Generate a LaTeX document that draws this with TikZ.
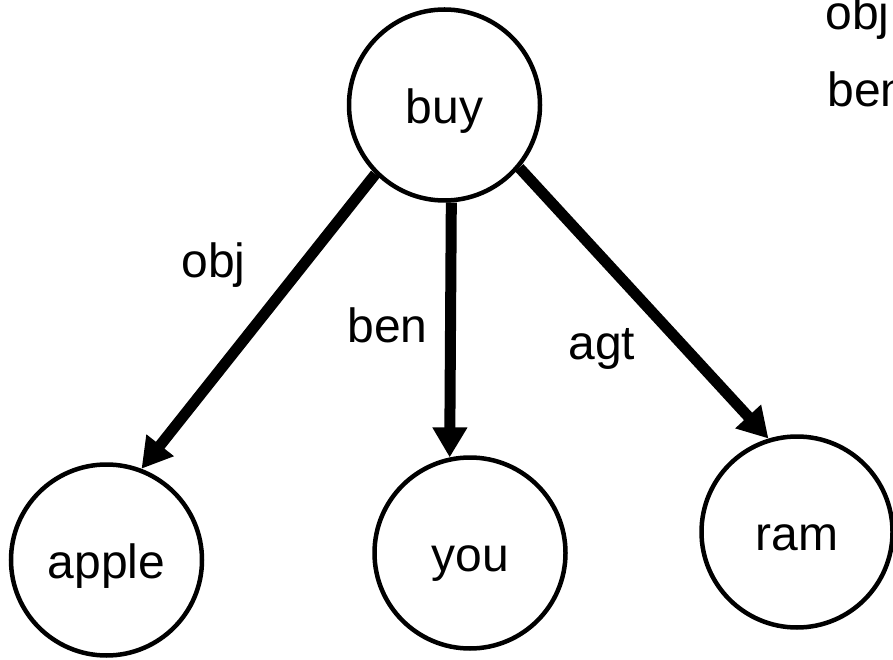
\documentclass[tikz,border=0pt]{standalone}
\usepackage{fontspec}
\setmainfont{Liberation Sans}
\usepackage{tikz}
\usetikzlibrary{arrows.meta}

\begin{document}
\begin{tikzpicture}[x=1pt,y=1pt,
    every node/.style={font=\fontsize{48}{58}\selectfont},
    concept/.style={circle,draw,line width=4.5pt,minimum size=191pt,inner sep=0pt,text height=37pt,text depth=0pt},
    rel/.style={line width=11pt,-{Triangle[width=33pt,length=30pt]}}]
                \useasboundingbox (0,0) rectangle (893,659);
                \node [concept] (buy) at (444.5,554) {buy};
                \node [concept] (apple) at (106.5,99) {apple};
                \node [concept] (you) at (470,106) {you};
                \node [concept] (ram) at (797,127) {ram};
                \draw [rel] (buy.225) -- (apple.69);
                \draw [rel] (buy.274) -- (you.102);
                \draw [rel] (buy.320) -- (ram.107);
                \node [anchor=base west] (objlab) at (178,381) {obj};
                \node [anchor=base west] (benlab) at (344,316) {ben};
                \node [anchor=base west] (agtlab) at (565,299) {agt};
                \node [anchor=base west] (objkey) at (822,629) {obj};
                \node [anchor=base west] (benkey) at (824,552) {ben};
            \end{tikzpicture}
\end{document}
